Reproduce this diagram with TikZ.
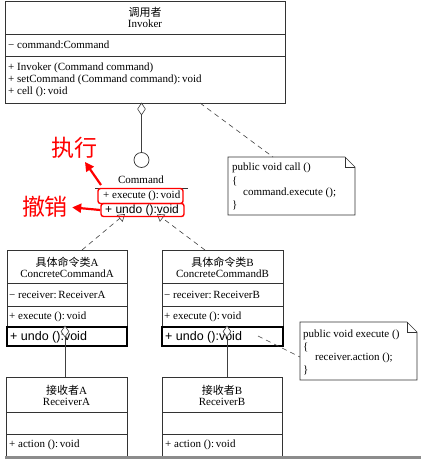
\documentclass[tikz,border=0pt]{standalone}
\usepackage{fontspec}
\setmainfont{Liberation Serif}
\newfontfamily\cjk{Noto Sans CJK SC}
\newfontfamily\arialfont{Liberation Sans}
\usetikzlibrary{arrows.meta,shapes.geometric}

\tikzset{
  umlbox/.style={draw=black!80, line width=0.8pt},
  sep/.style={draw=black!80, line width=0.6pt},
  body/.style={font=\fontsize{11}{13}\selectfont, inner sep=0pt, anchor=west},
  title/.style={font=\fontsize{11}{13}\selectfont, inner sep=0pt},
  undoline/.style={font=\arialfont\fontsize{12.5}{14}\selectfont, inner sep=0pt, anchor=west},
  undobox/.style={draw=black, line width=1.4pt},
  link/.style={draw=black!75, line width=0.6pt, dash pattern=on 5pt off 4pt},
  realize/.style={link, -{Triangle[open, length=7pt, width=9pt, line width=0.6pt]}},
  solidlink/.style={draw=black!75, line width=0.7pt},
  aggr/.style={diamond, draw=black!75, line width=0.6pt, fill=white, inner sep=0pt,
               minimum width=8pt, minimum height=12pt},
  lollipop/.style={circle, draw=black!80, line width=0.7pt, inner sep=0pt, minimum size=15pt},
  note/.style={draw=black!80, line width=0.7pt},
  hl/.style={draw=red, line width=1.4pt, rounded corners=2.5pt, inner sep=0pt},
  callout/.style={text=red, font=\cjk\fontsize{23}{25}\selectfont, inner sep=0pt},
  pointer/.style={draw=red, line width=2.2pt, -{Triangle[length=9pt, width=9pt]}},
}

\begin{document}
\begin{tikzpicture}[x=1pt, y=-1pt]
\useasboundingbox (0,0) rectangle (421,464);

% ---------------- Invoker ----------------
\draw[umlbox] (5,1) rectangle (285,103);
\draw[sep] (5,34) -- (285,34) (5,56) -- (285,56);
\node[title] (invcn) at (145,12) {\cjk 调用者};
\node[title] (invn)  at (145,24) {Invoker};
\node[body] (invattr) at (8,45) {− command:Command};
\node[body] (invm1) at (8,68) {+ Invoker (Command command)};
\node[body] (invm2) at (8,80) {+ setCommand (Command command):\,void};
\node[body] (invm3) at (8,92) {+ cell ():\,void};

% aggregation to the Command interface (lollipop)
\node[aggr] (invagg) at (141.5,109) {};
\node[lollipop] (lolli) at (141.5,160) {};
\draw[solidlink] (invagg.south) -- (lolli.north);

% ---------------- Command interface ----------------
\node[title] (cmdname) at (141,180) {Command};
\draw[sep] (95,188) -- (188,188);
\node[body] (cmdexec) at (103,196) {+ execute ():\,void};
\node[undoline, font=\arialfont\fontsize{12}{14}\selectfont] (cmdundo) at (105,210) {+ undo ():void};

% realization arrows from the concrete commands
\coordinate (tipA) at (125,214);
\coordinate (tipB) at (157,214);
\coordinate (ccaTop) at (82,250);
\coordinate (ccbTop) at (205,250);
\draw[realize] (ccaTop) -- (tipA);
\draw[realize] (ccbTop) -- (tipB);

% highlighted operations
\node[hl, minimum width=85pt, minimum height=15pt] (hlexec) at (140.5,196) {};
\node[hl, minimum width=83pt, minimum height=13pt] (hlundo) at (142.5,210) {};

\node[callout] (execlbl) at (74,148) {执行};
\node[callout] (undolbl) at (45,207) {撤销};
\coordinate (execfrom) at (101,185);
\coordinate (exectip) at (85,162);
\draw[pointer] (execfrom) -- (exectip);
\draw[pointer, shorten >=4pt] (hlundo.west) -- (undolbl.east);

% ---------------- note on call() ----------------
\coordinate (invfoot) at (200,103);
\coordinate (n1top) at (273,157);
\draw[link] (invfoot) -- (n1top);
\draw[note] (228,157) -- (345,157) -- (355,167) -- (355,215) -- (228,215) -- cycle;
\draw[note] (345,157) -- (345,167) -- (355,167);
\node[body] (n1a) at (232,168) {public void call ()};
\node[body] (n1b) at (232,181) {\{};
\node[body] (n1c) at (243,193) {command.execute ();};
\node[body] (n1d) at (232,205) {\}};

% ---------------- ConcreteCommandA ----------------
\draw[umlbox] (7,250) rectangle (127,346);
\draw[sep] (7,283) -- (127,283) (7,306) -- (127,306);
\node[title] (ccacn) at (67,262) {{\cjk 具体命令类}A};
\node[title] (ccan)  at (67,274) {ConcreteCommandA};
\node[body] (ccaattr) at (9,295) {− receiver:\,ReceiverA};
\node[body] (ccaexec) at (9,317) {+ execute ():\,void};
\draw[undobox] (7,327) rectangle (127,346);
\node[undoline] (ccaundo) at (10,337) {+ undo ():void};

% ---------------- ConcreteCommandB ----------------
\draw[umlbox] (162,250) rectangle (283,346);
\draw[sep] (162,283) -- (283,283) (162,306) -- (283,306);
\node[title] (ccbcn) at (222.5,262) {{\cjk 具体命令类}B};
\node[title] (ccbn)  at (222.5,274) {ConcreteCommandB};
\node[body] (ccbattr) at (164,295) {− receiver:\,ReceiverB};
\node[body] (ccbexec) at (164,317) {+ execute ():\,void};
\draw[undobox] (162,327) rectangle (283,346);
\node[undoline] (ccbundo) at (165,337) {+ undo ():void};

% ---------------- note on execute() ----------------
\coordinate (ccbexecref) at (258,336);
\coordinate (n2side) at (300,357);
\draw[link] (ccbexecref) -- (n2side);
\draw[note, fill=white] (300,322) -- (407,322) -- (417,332) -- (417,380) -- (300,380) -- cycle;
\draw[note] (407,322) -- (407,332) -- (417,332);
\node[body] (n2a) at (303,335) {public void execute ()};
\node[body] (n2b) at (303,347) {\{};
\node[body] (n2c) at (315,358) {receiver.action ();};
\node[body] (n2d) at (303,370) {\}};

% ---------------- Receivers ----------------
\draw[umlbox] (6,377) rectangle (127,457);
\draw[sep] (6,412) -- (127,412) (6,434) -- (127,434);
\node[title] (racn) at (66.5,390) {{\cjk 接收者}A};
\node[title] (ran)  at (66.5,402) {ReceiverA};
\node[body] (raop) at (9,445) {+ action ():\,void};

\draw[umlbox] (162,377) rectangle (282,457);
\draw[sep] (162,412) -- (282,412) (162,434) -- (282,434);
\node[title] (rbcn) at (222,390) {{\cjk 接收者}B};
\node[title] (rbn)  at (222,402) {ReceiverB};
\node[body] (rbop) at (165,445) {+ action ():\,void};

% aggregations from the commands to their receivers
\coordinate (raTop) at (65,377);
\coordinate (rbTop) at (227,377);
\node[aggr, minimum height=11pt] (ccaagg) at (65,331.5) {};
\node[aggr, minimum height=11pt] (ccbagg) at (227,331.5) {};
\draw[solidlink] (ccaagg.south) -- (raTop);
\draw[solidlink] (ccbagg.south) -- (rbTop);

% page rule along the bottom
\draw[draw=black!45, line width=3pt] (5,457.5) -- (421,457.5);
\end{tikzpicture}
\end{document}
